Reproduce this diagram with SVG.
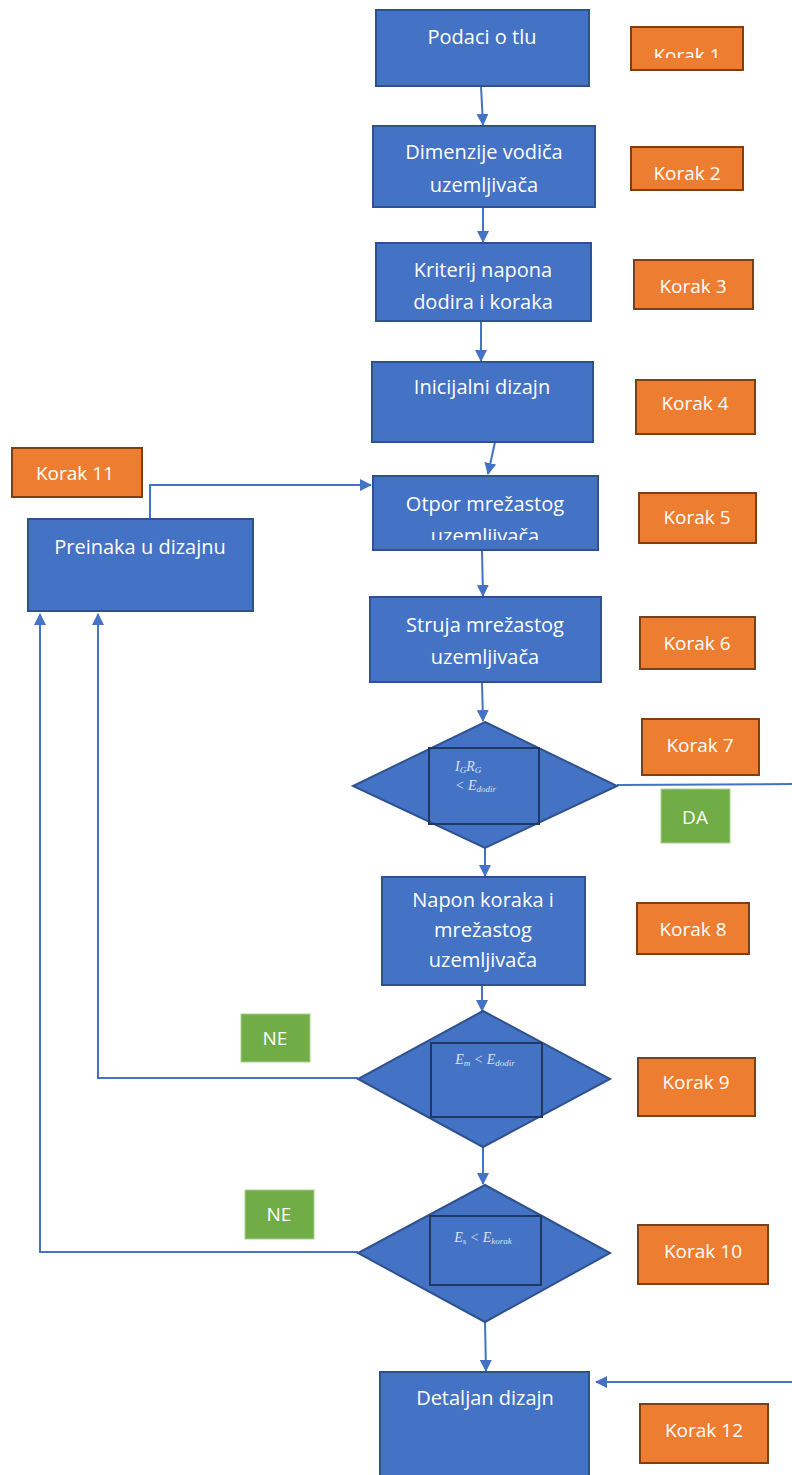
<svg xmlns="http://www.w3.org/2000/svg" width="792" height="1475" viewBox="0 0 792 1475">
<style>
.box{fill:#4472C4;stroke:#2F528F;stroke-width:2}
.inner{fill:none;stroke:#1F3864;stroke-width:2}
.kor{fill:#ED7D31;stroke:#7F3F14;stroke-width:2}
.ok{fill:#70AD47;stroke:#A9D18E;stroke-width:1}
.t{font-family:"Open Sans","Noto Sans",sans-serif;font-size:20px;fill:#FFFFFF;text-anchor:middle}
.k{font-family:"Open Sans","Noto Sans",sans-serif;font-size:19px;fill:#FFFFFF;text-anchor:middle}
.m{font-family:"Liberation Serif","DejaVu Serif",serif;font-style:italic;font-size:14px;fill:#D9E2F3}
.c{fill:none;stroke:#4472C4;stroke-width:2}
</style>
<defs>
<marker id="ah" markerWidth="12" markerHeight="12" refX="11" refY="6" orient="auto" markerUnits="userSpaceOnUse"><path d="M0,0 L12,6 L0,12 z" fill="#4472C4"/></marker>
<clipPath id="clip1"><rect x="631" y="27" width="112" height="31"/></clipPath>
<clipPath id="clip5"><rect x="373" y="476" width="225" height="64"/></clipPath>
</defs>

<g id="connectors">
<line class="c" x1="481" y1="86" x2="483" y2="125" marker-end="url(#ah)"/>
<line class="c" x1="483" y1="207" x2="483" y2="242" marker-end="url(#ah)"/>
<line class="c" x1="481" y1="321" x2="481" y2="361" marker-end="url(#ah)"/>
<line class="c" x1="495" y1="442" x2="488" y2="474" marker-end="url(#ah)"/>
<polyline class="c" points="150,518 150,485 371,485" marker-end="url(#ah)"/>
<line class="c" x1="482" y1="550" x2="483" y2="596" marker-end="url(#ah)"/>
<line class="c" x1="482" y1="682" x2="483" y2="721" marker-end="url(#ah)"/>
<line class="c" x1="617" y1="785" x2="800" y2="784"/>
<line class="c" x1="485" y1="848" x2="485" y2="876" marker-end="url(#ah)"/>
<line class="c" x1="482" y1="985" x2="482" y2="1011" marker-end="url(#ah)"/>
<polyline class="c" points="358,1078 98,1078 98,614" marker-end="url(#ah)"/>
<line class="c" x1="483" y1="1147" x2="483" y2="1184" marker-end="url(#ah)"/>
<polyline class="c" points="358,1252 40,1252 40,614" marker-end="url(#ah)"/>
<line class="c" x1="485" y1="1322" x2="486" y2="1371" marker-end="url(#ah)"/>
<line class="c" x1="800" y1="1382" x2="596" y2="1382" marker-end="url(#ah)"/>
</g>

<g id="n1"><rect class="box" x="376" y="10" width="213" height="76"/><text class="t" x="482" y="44">Podaci o tlu</text></g>
<g id="k1"><rect class="kor" x="631" y="27" width="112" height="43"/><text class="k" x="687" y="62" clip-path="url(#clip1)">Korak 1</text></g>

<g id="n2"><rect class="box" x="373" y="126" width="222" height="81"/><text class="t" x="484" y="159">Dimenzije vodiča</text><text class="t" x="484" y="192">uzemljivača</text></g>
<g id="k2"><rect class="kor" x="631" y="147" width="112" height="43"/><text class="k" x="687" y="180">Korak 2</text></g>

<g id="n3"><rect class="box" x="376" y="243" width="215" height="78"/><text class="t" x="483" y="277">Kriterij napona</text><text class="t" x="483" y="309">dodira i koraka</text></g>
<g id="k3"><rect class="kor" x="634" y="260" width="119" height="49"/><text class="k" x="693" y="293">Korak 3</text></g>

<g id="n4"><rect class="box" x="372" y="362" width="221" height="80"/><text class="t" x="482" y="394">Inicijalni dizajn</text></g>
<g id="k4"><rect class="kor" x="636" y="380" width="119" height="54"/><text class="k" x="695" y="410">Korak 4</text></g>

<g id="n5"><rect class="box" x="373" y="476" width="225" height="74"/><text class="t" x="485" y="511">Otpor mrežastog</text><text class="t" x="485" y="543" clip-path="url(#clip5)">uzemljivača</text></g>
<g id="k5"><rect class="kor" x="639" y="493" width="117" height="50"/><text class="k" x="697" y="524">Korak 5</text></g>

<g id="k11"><rect class="kor" x="12" y="448" width="130" height="49"/><text class="k" x="75" y="480">Korak 11</text></g>
<g id="n11"><rect class="box" x="28" y="519" width="225" height="92"/><text class="t" x="140" y="554">Preinaka u dizajnu</text></g>

<g id="n6"><rect class="box" x="370" y="597" width="231" height="85"/><text class="t" x="485" y="632">Struja mrežastog</text><text class="t" x="485" y="664">uzemljivača</text></g>
<g id="k6"><rect class="kor" x="640" y="617" width="115" height="52"/><text class="k" x="697" y="650">Korak 6</text></g>

<g id="n7"><polygon class="box" points="485,722 617,786 485,848 353,786"/><rect class="inner" x="429" y="748" width="110" height="76"/>
<text class="m" x="455" y="771">I<tspan font-size="9" dy="2">G</tspan><tspan dy="-2">R</tspan><tspan font-size="9" dy="2">G</tspan></text>
<text class="m" x="455" y="790">&lt; E<tspan font-size="9" dy="2">dodir</tspan></text></g>
<g id="k7"><rect class="kor" x="642" y="719" width="117" height="56"/><text class="k" x="700" y="752">Korak 7</text></g>
<g id="da"><rect class="ok" x="661" y="789" width="69" height="54"/><text class="k" x="695" y="824">DA</text></g>

<g id="n8"><rect class="box" x="382" y="877" width="203" height="108"/><text class="t" x="483" y="907">Napon koraka i</text><text class="t" x="483" y="937">mrežastog</text><text class="t" x="483" y="967">uzemljivača</text></g>
<g id="k8"><rect class="kor" x="637" y="903" width="112" height="51"/><text class="k" x="693" y="936">Korak 8</text></g>

<g id="ne1"><rect class="ok" x="241" y="1014" width="69" height="48"/><text class="k" x="275" y="1045">NE</text></g>
<g id="n9"><polygon class="box" points="483,1011 610,1079 483,1147 358,1079"/><rect class="inner" x="431" y="1043" width="111" height="74"/>
<text class="m" x="485" y="1064" text-anchor="middle">E<tspan font-size="9" dy="2">m</tspan><tspan dy="-2"> &lt; E</tspan><tspan font-size="9" dy="2">dodir</tspan></text></g>
<g id="k9"><rect class="kor" x="638" y="1058" width="117" height="58"/><text class="k" x="696" y="1089">Korak 9</text></g>

<g id="ne2"><rect class="ok" x="245" y="1190" width="69" height="49"/><text class="k" x="279" y="1221">NE</text></g>
<g id="n10"><polygon class="box" points="485,1185 610,1253 485,1322 358,1253"/><rect class="inner" x="430" y="1216" width="111" height="69"/>
<text class="m" x="483" y="1242" text-anchor="middle">E<tspan font-size="9" dy="2">s</tspan><tspan dy="-2"> &lt; E</tspan><tspan font-size="9" dy="2">korak</tspan></text></g>
<g id="k10"><rect class="kor" x="638" y="1225" width="130" height="59"/><text class="k" x="703" y="1258">Korak 10</text></g>

<g id="n12"><rect class="box" x="380" y="1372" width="209" height="110"/><text class="t" x="485" y="1405">Detaljan dizajn</text></g>
<g id="k12"><rect class="kor" x="640" y="1404" width="128" height="59"/><text class="k" x="704" y="1437">Korak 12</text></g>
</svg>
